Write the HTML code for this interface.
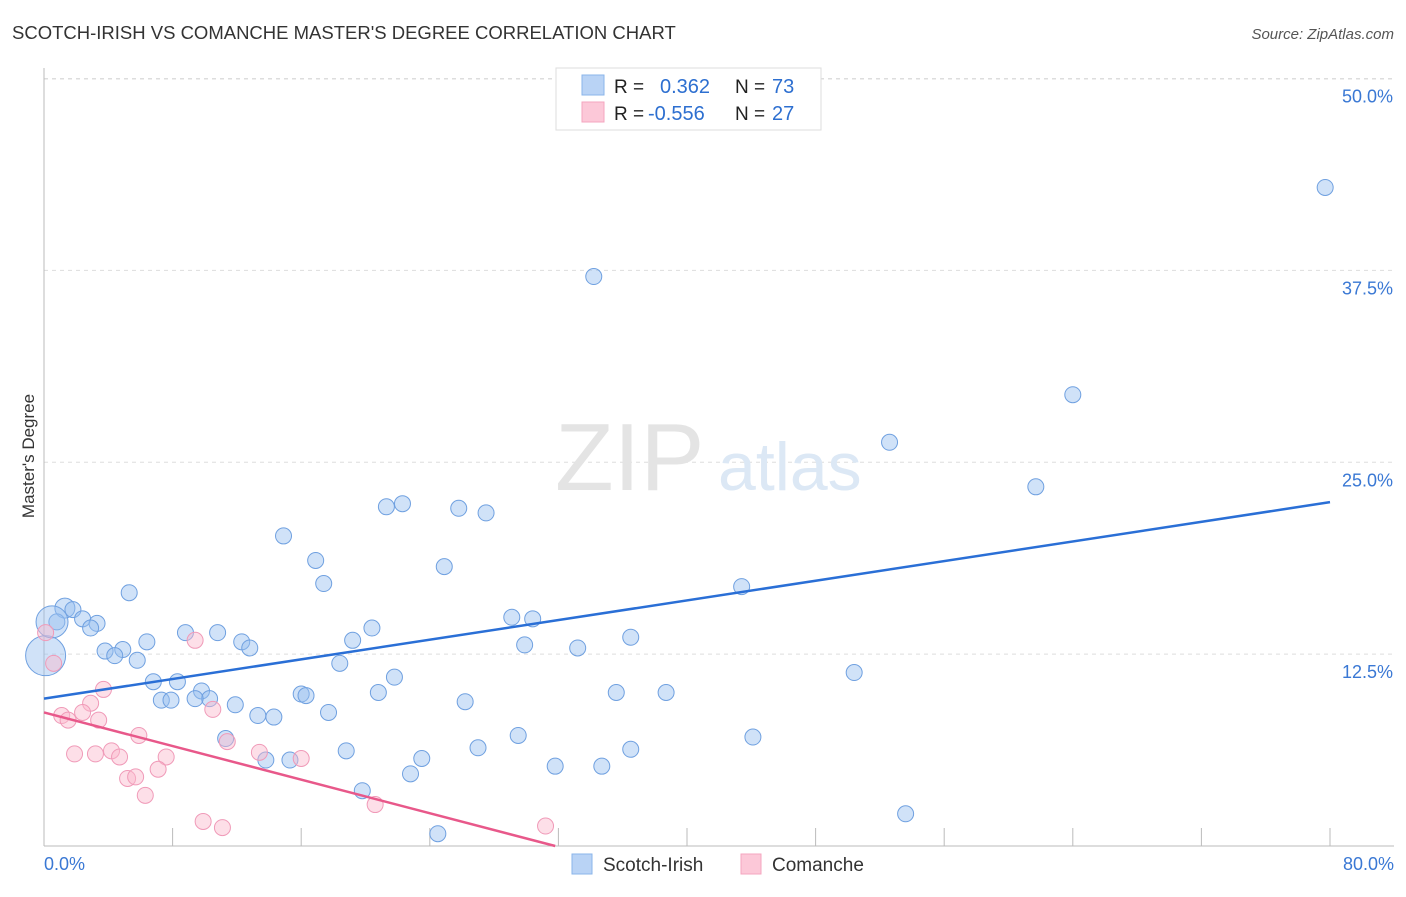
<!DOCTYPE html>
<html><head><meta charset="utf-8"><style>
body{margin:0;background:#fff;font-family:"Liberation Sans",sans-serif;}
svg text{font-family:"Liberation Sans",sans-serif;}
</style></head><body>
<svg id="chart" width="1406" height="892">
<text x="12" y="39" font-size="18.5" fill="#333">SCOTCH-IRISH VS COMANCHE MASTER'S DEGREE CORRELATION CHART</text>
<text x="1394" y="39" font-size="15" fill="#555" text-anchor="end" font-style="italic">Source: ZipAtlas.com</text>
<text x="34" y="456" font-size="17" fill="#333" text-anchor="middle" transform="rotate(-90 34 456)">Master's Degree</text>
<g id="grid"></g>
<text x="555" y="490" font-size="96" fill="#e4e4e4" font-family="Liberation Serif">ZIP</text>
<text x="718" y="490" font-size="68" fill="#dce8f5">atlas</text>
<g id="marks"></g>
<g>
<rect x="556" y="68" width="265" height="62" fill="#fff" stroke="#ddd"/>
<rect x="582" y="75" width="22" height="20" fill="#b9d3f5" stroke="#8ab4ea"/>
<rect x="582" y="102" width="22" height="20" fill="#fcc8d8" stroke="#f4a6bf"/>
<text x="614" y="93" font-size="19" fill="#222">R =</text><text x="660" y="93" font-size="20" fill="#2d6fd0">0.362</text>
<text x="735" y="93" font-size="19" fill="#222">N =</text><text x="772" y="93" font-size="20" fill="#2d6fd0">73</text>
<text x="614" y="120" font-size="19" fill="#222">R =</text><text x="648" y="120" font-size="20" fill="#2d6fd0">-0.556</text>
<text x="735" y="120" font-size="19" fill="#222">N =</text><text x="772" y="120" font-size="20" fill="#2d6fd0">27</text>
</g>
<g>
<rect x="572" y="854" width="20" height="20" fill="#b9d3f5" stroke="#8ab4ea"/>
<text x="603" y="871" font-size="19" fill="#333">Scotch-Irish</text>
<rect x="741" y="854" width="20" height="20" fill="#fcc8d8" stroke="#f4a6bf"/>
<text x="772" y="871" font-size="19" fill="#333">Comanche</text>
</g>
</svg>
<script>
const blueX=[79.7,34.2,64.0,52.6,61.7,22.3,21.3,25.8,27.5,14.9,16.9,24.9,17.4,43.4,5.3,1.3,1.8,2.4,3.3,2.9,29.1,30.4,20.4,0.8,8.8,10.8,36.5,6.4,12.3,19.2,12.8,29.9,33.2,4.9,3.8,4.4,5.8,18.4,50.4,21.8,6.8,8.3,9.8,20.8,35.6,38.7,16.0,16.3,10.3,7.3,7.9,9.4,11.9,26.2,17.7,13.3,14.3,29.5,44.1,11.3,18.8,27.0,36.5,13.8,15.3,23.5,31.8,34.7,22.8,19.8,53.6,24.5,0.1,0.5];
const blueY=[42.9,37.1,29.4,26.3,23.4,22.3,22.1,22.0,21.7,20.2,18.6,18.2,17.1,16.9,16.5,15.5,15.4,14.8,14.5,14.2,14.9,14.8,14.2,14.6,13.9,13.9,13.6,13.3,13.3,13.4,12.9,13.1,12.9,12.8,12.7,12.4,12.1,11.9,11.3,11.0,10.7,10.7,10.1,10.0,10.0,10.0,9.9,9.8,9.6,9.5,9.5,9.6,9.2,9.4,8.7,8.5,8.4,7.2,7.1,7.0,6.2,6.4,6.3,5.6,5.6,5.7,5.2,5.2,4.7,3.6,2.1,0.8,12.4,14.6];
const blueR=[8,8,8,8,8,8,8,8,8,8,8,8,8,8,8,10,8,8,8,8,8,8,8,8,8,8,8,8,8,8,8,8,8,8,8,8,8,8,8,8,8,8,8,8,8,8,8,8,8,8,8,8,8,8,8,8,8,8,8,8,8,8,8,8,8,8,8,8,8,8,8,8,20,16];
const pinkX=[0.1,0.6,3.7,2.9,1.1,2.4,1.5,3.4,5.9,9.4,10.5,11.4,1.9,3.2,4.2,4.7,7.6,13.4,16.0,5.2,5.7,7.1,6.3,20.6,9.9,11.1,31.2];
const pinkY=[13.9,11.9,10.2,9.3,8.5,8.7,8.2,8.2,7.2,13.4,8.9,6.8,6.0,6.0,6.2,5.8,5.8,6.1,5.7,4.4,4.5,5.0,3.3,2.7,1.6,1.2,1.3];
const blueTrend=[0,9.6,80,22.4];
const pinkTrend=[0,8.7,31.8,0];
const yTicks=[12.5,25,37.5,50];
const yTickLabels=["12.5%","25.0%","37.5%","50.0%"];
const xTicks=[0,8,16,24,32,40,48,56,64,72,80];
const X=v=>44+v*16.075, Y=v=>846-v*15.35;
const NS="http://www.w3.org/2000/svg";
const gridG=document.getElementById('grid'), marksG=document.getElementById('marks');
function mk(tag,attrs,parent){const e=document.createElementNS(NS,tag);for(const k in attrs)e.setAttribute(k,attrs[k]);parent.appendChild(e);return e;}
yTicks.forEach((t,i)=>{
 const l=mk('line',{x1:44,x2:1394,y1:Y(t),y2:Y(t),stroke:'#ddd','stroke-dasharray':'4,4'},gridG);
 
 
 const tx=mk('text',{x:1393,y:Y(t)+24,'font-size':18,fill:'#3a78d4','text-anchor':'end'},gridG);
 tx.textContent=yTickLabels[i];
 
 
});
const topLine=mk('line',{x1:44,x2:1394,y1:79,y2:79,stroke:'#ddd','stroke-dasharray':'4,4'},gridG);


const yAxisLine=mk('line',{x1:44,x2:44,y1:68,y2:846,stroke:'#bbb'},gridG);


const xAxisLine=mk('line',{x1:44,x2:1394,y1:846,y2:846,stroke:'#bbb'},gridG);


xTicks.forEach(t=>{
 const l=mk('line',{x1:X(t),x2:X(t),y1:828,y2:846,stroke:'#bbb'},gridG);
 
 
});
[[0,'0.0%','start',44],[80,'80.0%','end',1394]].forEach(a=>{
 const tx=mk('text',{x:a[3],y:870,'font-size':18,fill:'#3a78d4','text-anchor':a[2]},gridG);
 tx.textContent=a[1];
 
 
});
blueX.forEach((x,i)=>{
 const c=mk('circle',{cx:X(x),cy:Y(blueY[i]),r:blueR[i],fill:'rgba(150,190,240,0.45)',stroke:'#6fa0e0','stroke-width':1},marksG);
 
 
});
pinkX.forEach((x,i)=>{
 const c=mk('circle',{cx:X(x),cy:Y(pinkY[i]),r:8,fill:'rgba(250,185,205,0.45)',stroke:'#f09ab8','stroke-width':1},marksG);
 
 
});
const bl=mk('line',{x1:X(blueTrend[0]),y1:Y(blueTrend[1]),x2:X(blueTrend[2]),y2:Y(blueTrend[3]),stroke:'#2a6fd6','stroke-width':2.5},marksG);


const pl=mk('line',{x1:X(pinkTrend[0]),y1:Y(pinkTrend[1]),x2:X(pinkTrend[2]),y2:Y(pinkTrend[3]),stroke:'#e8588a','stroke-width':2.5},marksG);


</script>
</body></html>
